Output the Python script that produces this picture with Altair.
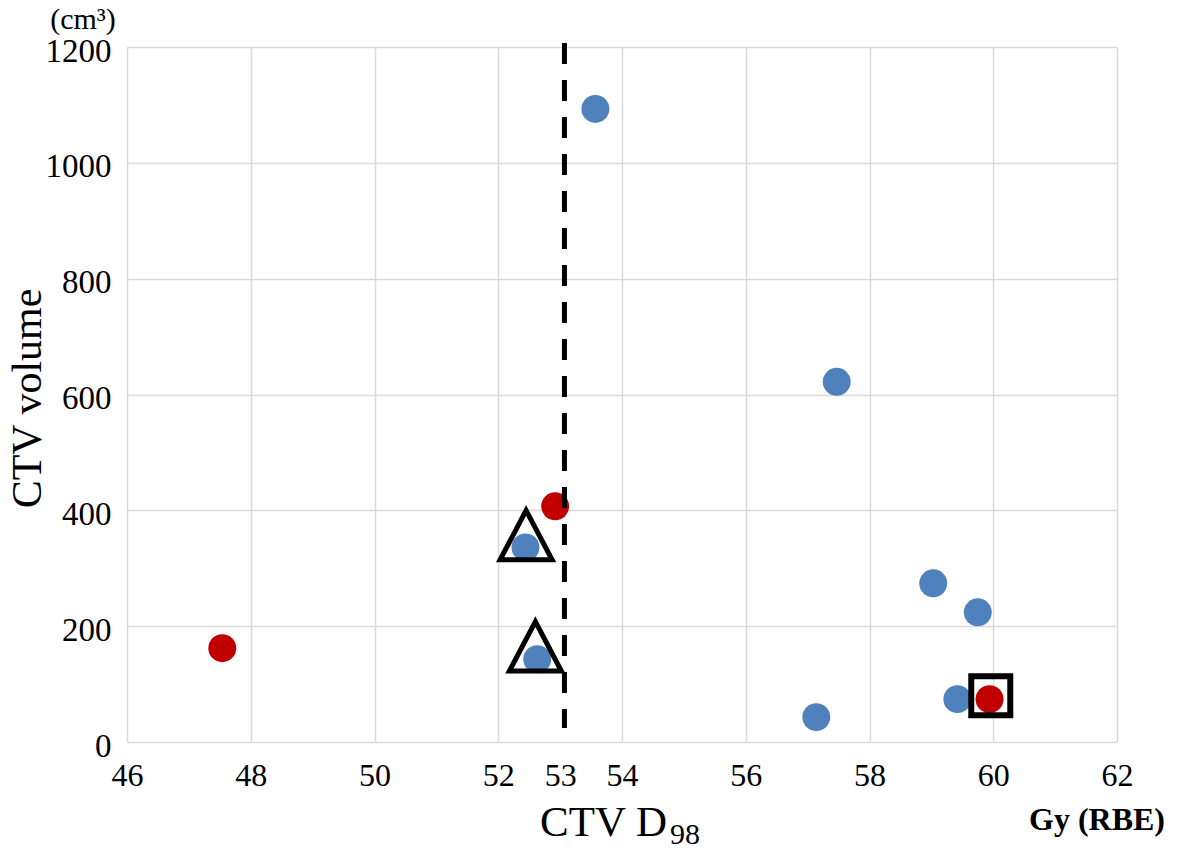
import altair as alt
import pandas as pd

# ---- data ----
blue_x = [53.57, 57.47, 52.44, 59.03, 59.75, 52.63, 59.42, 57.14]
blue_y = [1093, 622, 336, 274, 224, 143, 74, 43]
red_x = [52.92, 47.54, 59.94]
red_y = [407, 162, 74]

tri_x = [52.45, 52.60]
tri_y = [355, 163]
sq_x = [59.96]
sq_y = [80]

cut_x = 53.07          # dashed threshold line
cut_top = 1207
cut_bottom = 24

x_ticks = [46, 48, 50, 52, 53, 54, 56, 58, 60, 62]
y_ticks = [0, 200, 400, 600, 800, 1000, 1200]

BLUE = "#4F81BD"
RED = "#C00000"
FONT = "Liberation Serif"

pts = pd.DataFrame({
    "d98": blue_x + red_x,
    "vol": blue_y + red_y,
    "grp": ["blue"] * len(blue_x) + ["red"] * len(red_x),
})
tri = pd.DataFrame({"d98": tri_x, "vol": tri_y})
sq = pd.DataFrame({"d98": sq_x, "vol": sq_y})
rule_df = pd.DataFrame({"d98": [cut_x], "top": [cut_top], "bottom": [cut_bottom]})

xscale = alt.Scale(domain=[46, 62], nice=False, zero=False)
yscale = alt.Scale(domain=[0, 1200], nice=False)

xaxis = alt.Axis(
    values=x_ticks, title=None, grid=True, format="d",
    gridColor={"condition": {"test": "datum.value == 53", "value": "transparent"}, "value": "#D9D9D9"},
    gridWidth=1.5, domain=False, ticks=False, labelFlush=False, labelOverlap=False,
    labelFont=FONT, labelFontSize=32, labelColor="black",
    labelBaseline="middle", labelPadding=33,
)
yaxis = alt.Axis(
    values=y_ticks, title="CTV volume", grid=True, gridColor="#D9D9D9", gridWidth=1.5,
    domain=False, ticks=False, format="d", labelFlush=False, labelOverlap=False,
    labelFont=FONT, labelFontSize=33, labelColor="black", labelPadding=16,
    labelBaseline="middle", labelOffset=4,
    titleFont=FONT, titleFontSize=42, titleFontWeight="normal", titleColor="black",
    titleAngle=-90, titleX=-87, titleY=351, titleAlign="center", titleBaseline="alphabetic",
)

points = alt.Chart(pts).mark_circle(size=780, opacity=1).encode(
    x=alt.X("d98:Q", scale=xscale, axis=xaxis),
    y=alt.Y("vol:Q", scale=yscale, axis=yaxis),
    color=alt.Color("grp:N", scale=alt.Scale(domain=["blue", "red"], range=[BLUE, RED]), legend=None),
)

triangles = alt.Chart(tri).mark_point(
    shape="M0,-1L-1,0.9L1,0.9Z", size=2704, filled=False, stroke="black",
    strokeWidth=5, opacity=1, strokeOpacity=1,
).encode(x="d98:Q", y="vol:Q")

squares = alt.Chart(sq).mark_point(
    shape="square", size=1521, filled=False, stroke="black",
    strokeWidth=6, opacity=1, strokeOpacity=1,
).encode(x="d98:Q", y="vol:Q")

rule = alt.Chart(rule_df).mark_rule(
    color="black", strokeWidth=5, strokeDash=[21, 16], strokeCap="butt", clip=False,
).encode(x="d98:Q", y="top:Q", y2="bottom:Q")

def label(txt, x, y, size, align="center", weight="normal"):
    return alt.Chart(pd.DataFrame({"t": [txt]})).mark_text(
        font=FONT, fontSize=size, fontWeight=weight, color="black",
        align=align, baseline="alphabetic",
    ).encode(x=alt.value(x), y=alt.value(y), text="t:N")

unit_lbl = label("(cm³)", -44, -18, 30)
gy_lbl = label("Gy (RBE)", 1038, 783, 32, align="right", weight="bold")
xt_main = label("CTV D", 540, 789, 43, align="right")
xt_sub = label("98", 543, 797, 30, align="left")

chart = alt.layer(points, triangles, squares, rule, unit_lbl, gy_lbl, xt_main, xt_sub).properties(
    width=990, height=695,
    autosize=alt.AutoSizeParams(type="none"),
    padding={"left": 119, "top": 39, "right": 56, "bottom": 106},
    background="white",
).configure_view(stroke=None)

chart.save("out.html", embed_options={"renderer": "svg", "actions": False})
